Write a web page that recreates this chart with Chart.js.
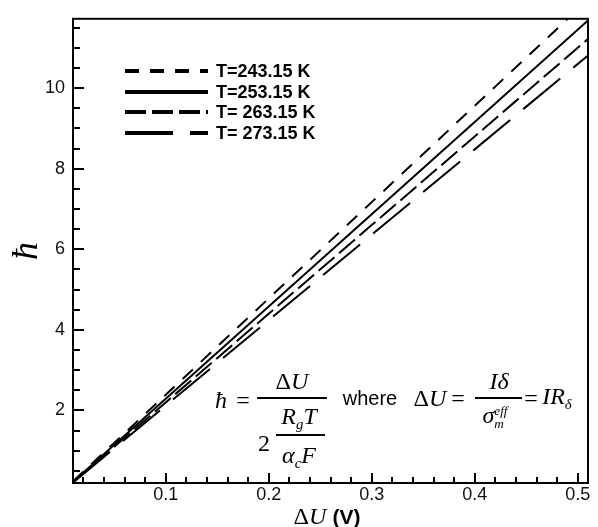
<!DOCTYPE html>
<html>
<head>
<meta charset="utf-8">
<script src="https://cdn.jsdelivr.net/npm/chart.js@4.4.0/dist/chart.umd.min.js"></script>
<style>
	html, body { margin: 0; padding: 0; background: #fff; }
	#wrap { position: relative; width: 598px; height: 527px; overflow: hidden; }
	#chart { position: absolute; left: 0; top: 0; }
	.m {
		position: absolute;
		font-family: 'Liberation Serif', 'Times New Roman', serif;
		font-size: 24px;
		color: #000;
		line-height: 1;
		white-space: nowrap;
		transform: translate(-50%, -50%);
	}
	.m i { font-style: italic; }
	.m sub { font-size: 0.62em; vertical-align: -0.3em; }
	.sans { font-family: 'Liberation Sans', Arial, sans-serif; font-size: 20px; }
	.bar { position: absolute; height: 1.6px; background: #000; }
	.stack { display: inline-block; vertical-align: middle; font-size: 0.55em; line-height: 1; text-align: left; }
</style>
</head>
<body>
<div id="wrap">
	<canvas id="chart" width="598" height="527"></canvas>

	<!-- formula: h = dU / (2 RgT / acF) -->
	<div class="m" style="left:221px; top:400px;"><i>ħ</i></div>
	<div class="m" style="left:243px; top:400px;">=</div>
	<div class="m" style="left:292px; top:381px;">Δ<i>U</i></div>
	<div class="bar" style="left:257px; top:397px; width:70px;"></div>
	<div class="m" style="left:264px; top:443px;">2</div>
	<div class="m" style="left:299px; top:418px;"><i>R<sub>g</sub>T</i></div>
	<div class="bar" style="left:276px; top:434px; width:49px;"></div>
	<div class="m" style="left:299px; top:457px;"><i>α<sub>c</sub>F</i></div>

	<div class="m sans" style="left:370px; top:398px;">where</div>

	<!-- dU = I delta / sigma_m^eff = I R_delta -->
	<div class="m" style="left:430px; top:398px;">Δ<i>U</i></div>
	<div class="m" style="left:458px; top:398px;">=</div>
	<div class="m" style="left:499px; top:381px;"><i>Iδ</i></div>
	<div class="bar" style="left:475px; top:397px; width:47px;"></div>
	<div class="m" style="left:495px; top:417px;"><i>σ</i><span class="stack"><i>eff</i><br><i>m</i></span></div>
	<div class="m" style="left:531px; top:398px;">=</div>
	<div class="m" style="left:557px; top:398px;"><i>IR<sub>δ</sub></i></div>

	<!-- x axis title -->
	<div class="m" style="left:327px; top:516px; font-size:24px;">Δ<i>U</i> <span class="sans" style="font-weight:bold; font-size:21px;">(V)</span></div>
</div>

<script>
	// ── Data ──────────────────────────────────────────────────

	const seriesLabels = [ 'T=243.15 K', 'T=253.15 K', 'T= 263.15 K', 'T= 273.15 K' ];

	const xValues = [ 0.01, 0.1, 0.2, 0.3, 0.4, 0.51 ];

	const hbar243 = [ 0.24, 2.39, 4.78, 7.17, 9.56, 12.19 ];
	const hbar253 = [ 0.23, 2.29, 4.58, 6.87, 9.16, 11.68 ];
	const hbar263 = [ 0.22, 2.2, 4.4, 6.6, 8.8, 11.22 ];
	const hbar273 = [ 0.21, 2.12, 4.24, 6.36, 8.48, 10.81 ];

	const xTickLabels = [ 0.1, 0.2, 0.3, 0.4, 0.5 ];
	const yTickLabels = [ 2, 4, 6, 8, 10 ];

	// ── Styles ────────────────────────────────────────────────

	const ink = '#000000';
	const dashes = [ [ 14, 11 ], [], [ 21, 6 ], [ 48, 17 ] ];
	const legendRows = [ 71, 92, 112, 133 ];

	const toPoints = ( ys ) => ys.map( ( y, i ) => ( { x: xValues[ i ], y } ) );

	const makeSet = ( label, ys, dash ) => ( {
		label,
		data: toPoints( ys ),
		showLine: true,
		borderColor: ink,
		borderWidth: 2,
		borderDash: dash,
		pointRadius: 0,
		fill: false,
	} );

	// ticks inside the box + frame + legend
	const framePlugin = {
		id: 'frame',
		afterDatasetsDraw( chart ) {
			const { ctx, chartArea: area, scales } = chart;
			const x = scales.x;
			const y = scales.y;

			ctx.save();
			ctx.strokeStyle = ink;
			ctx.lineWidth = 2;
			ctx.setLineDash( [] );

			for ( let i = 1; i <= 25; i++ ) {
				const v = i * 0.02;
				const px = Math.round( x.getPixelForValue( v ) );
				const len = i % 5 === 0 ? 10 : 6;
				ctx.beginPath();
				ctx.moveTo( px, area.bottom );
				ctx.lineTo( px, area.bottom - len );
				ctx.stroke();
			}

			for ( let i = 1; i <= 23; i++ ) {
				const v = i * 0.5;
				const py = Math.round( y.getPixelForValue( v ) );
				const len = i % 4 === 0 ? 11 : 7;
				ctx.beginPath();
				ctx.moveTo( area.left, py );
				ctx.lineTo( area.left + len, py );
				ctx.stroke();
			}

			ctx.strokeRect( area.left, area.top, area.right - area.left, area.bottom - area.top );

			// legend
			chart.data.datasets.forEach( ( ds, i ) => {
				const ly = legendRows[ i ];
				ctx.lineWidth = 4;
				ctx.setLineDash( ds.borderDash );
				ctx.beginPath();
				ctx.moveTo( 125, ly );
				ctx.lineTo( 208, ly );
				ctx.stroke();

				ctx.setLineDash( [] );
				ctx.fillStyle = ink;
				ctx.font = 'bold 18px "Liberation Sans", Arial, sans-serif';
				ctx.textBaseline = 'middle';
				ctx.textAlign = 'left';
				ctx.fillText( ds.label, 216, ly + 1 );
			} );

			ctx.restore();
		},
	};

	const tickFont = { family: '"Liberation Sans", Arial, sans-serif', size: 18 };

	new Chart( document.getElementById( 'chart' ), {
		type: 'scatter',
		data: {
			datasets: [
				makeSet( seriesLabels[ 0 ], hbar243, dashes[ 0 ] ),
				makeSet( seriesLabels[ 1 ], hbar253, dashes[ 1 ] ),
				makeSet( seriesLabels[ 2 ], hbar263, dashes[ 2 ] ),
				makeSet( seriesLabels[ 3 ], hbar273, dashes[ 3 ] ),
			],
		},
		options: {
			responsive: false,
			animation: false,
			layout: { padding: { left: 0, right: 10, top: 13, bottom: 0 } },
			plugins: {
				legend: { display: false },
				tooltip: { enabled: false },
			},
			scales: {
				x: {
					type: 'linear',
					min: 0.01,
					max: 0.51,
					grid: { display: false, drawTicks: false },
					border: { display: false },
					ticks: {
						color: '#111',
						font: tickFont,
						padding: 1,
						maxRotation: 0,
						callback: ( v ) => String( v ),
					},
					afterBuildTicks: ( scale ) => {
						scale.ticks = xTickLabels.map( ( v ) => ( { value: v } ) );
					},
					afterFit: ( scale ) => {
						scale.height = 44;
					},
				},
				y: {
					type: 'linear',
					min: 0.2,
					max: 11.72,
					grid: { display: false, drawTicks: false },
					border: { display: false },
					title: {
						display: true,
						text: 'ħ',
						color: ink,
						font: { family: '"Liberation Serif", "Times New Roman", serif', style: 'italic', size: 36 },
						padding: { top: 6, bottom: 0 },
					},
					ticks: {
						color: '#111',
						font: tickFont,
						padding: 8,
						callback: ( v ) => String( v ),
					},
					afterBuildTicks: ( scale ) => {
						scale.ticks = yTickLabels.map( ( v ) => ( { value: v } ) );
					},
					afterFit: ( scale ) => {
						scale.width = 73;
					},
				},
			},
		},
		plugins: [ framePlugin ],
	} );
</script>
</body>
</html>
